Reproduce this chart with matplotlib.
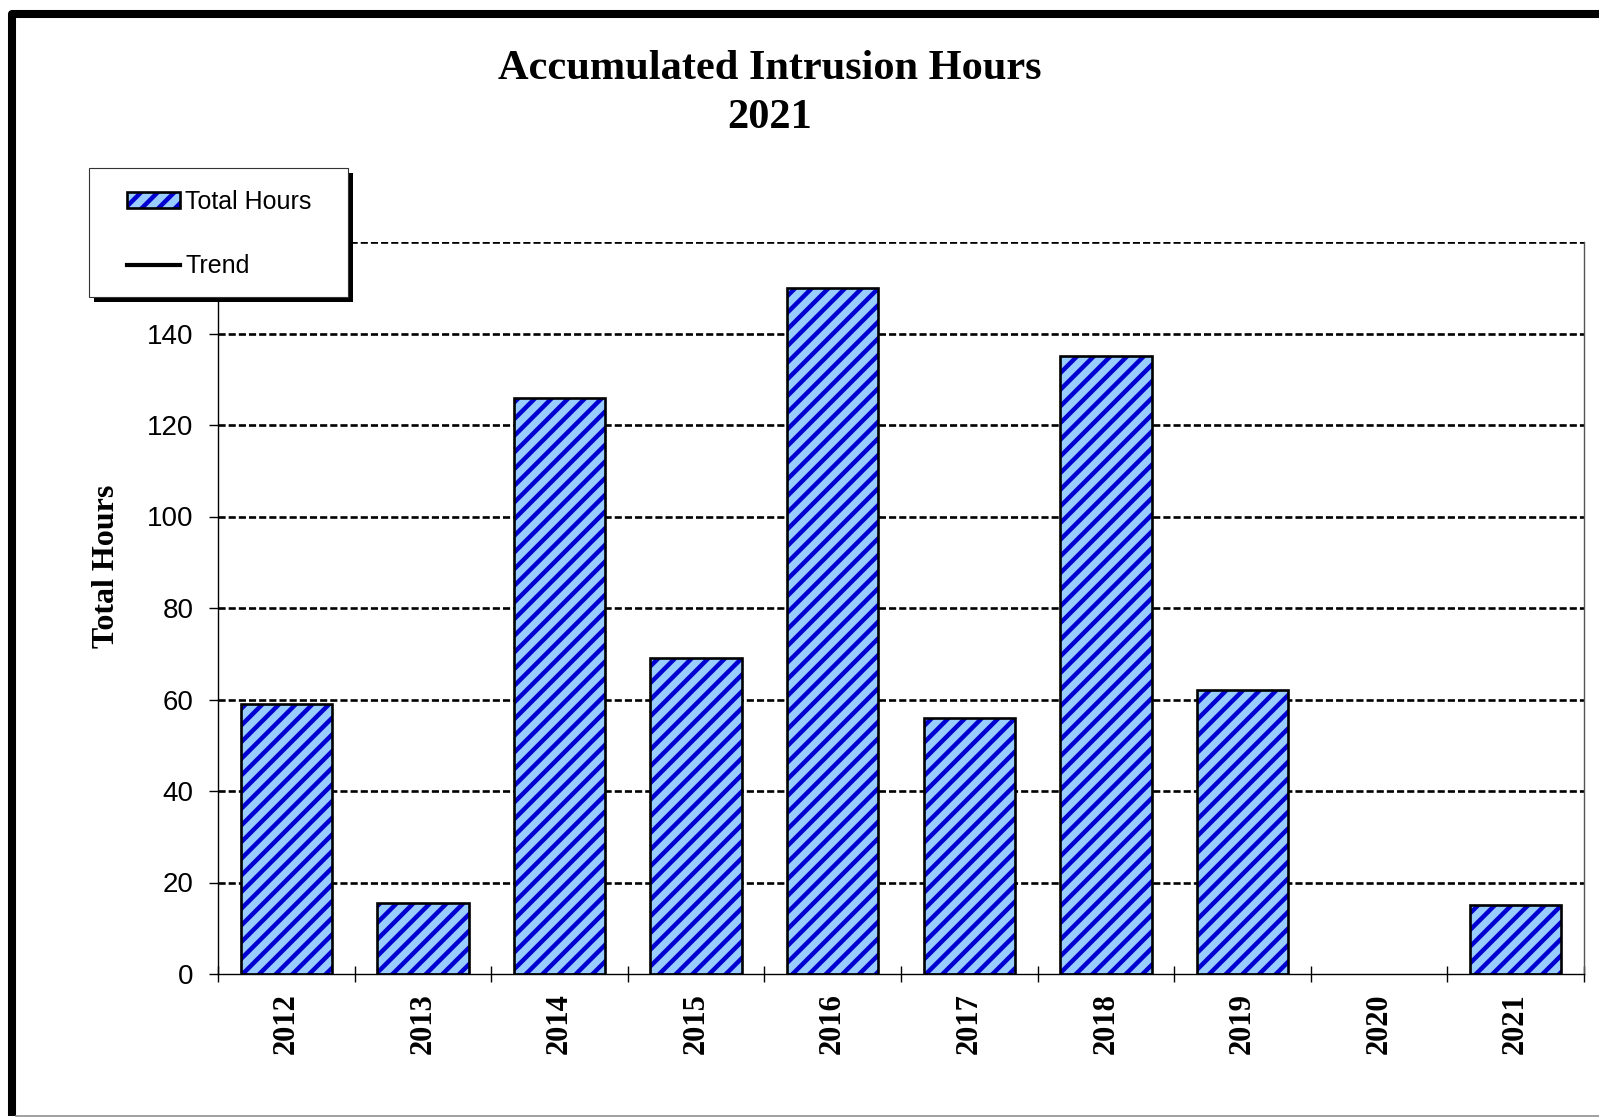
import matplotlib
matplotlib.use("Agg")
import numpy as np
import matplotlib.pyplot as plt
from matplotlib.lines import Line2D
from matplotlib.patches import Rectangle

# data
years = ["2012", "2013", "2014", "2015", "2016", "2017", "2018", "2019", "2020", "2021"]
total_hours = [59, 15.5, 126, 69, 150, 56, 135, 62, 0, 15]
y_ticks = [0, 20, 40, 60, 80, 100, 120, 140]
grid_levels = [20, 40, 60, 80, 100, 120, 140, 160]

W, H = 1599, 1118
SERIF = "Liberation Serif"
SANS = "Liberation Sans"

plt.rcParams["hatch.linewidth"] = 3.2


def fx(px):
    return px / W


def fy(py):
    return 1 - py / H


fig = plt.figure(figsize=(W / 100, H / 100), dpi=100)
fig.patch.set_facecolor("white")

ax = fig.add_axes([fx(218), fy(974), fx(1584) - fx(218), fy(242) - fy(974)])
x = np.arange(len(years))

# hatched fill, then black outline on top (no outline for empty years)
fill = ax.bar(x, total_hours, width=0.67, color="#99CCFF", edgecolor="#0000D0",
              hatch="//", linewidth=0, zorder=2)
edge_w = [1.9 if v > 0 else 0 for v in total_hours]
outline = ax.bar(x, total_hours, width=0.67, facecolor="none", edgecolor="black",
                 linewidth=edge_w, zorder=3)

ax.hlines(grid_levels, -0.5, len(years) - 0.5, colors="black", linewidth=1.9,
          linestyles=(0, (2.7, 1.15)), zorder=1)

ax.set_xlim(-0.5, len(years) - 0.5)
ax.set_ylim(0, 160)

ax.spines["top"].set_visible(False)
for side in ["left", "bottom"]:
    ax.spines[side].set_color("black")
    ax.spines[side].set_linewidth(1.0)
ax.spines["right"].set_color("#555555")
ax.spines["right"].set_linewidth(1.0)

ax.set_xticks(x)
ax.set_xticklabels(years, rotation=90, fontfamily=SERIF, fontweight="bold", fontsize=22)
ax.set_xticks(np.arange(-0.5, len(years)), minor=True)
ax.tick_params(axis="x", which="major", length=0, pad=14)
ax.tick_params(axis="x", which="minor", direction="inout", length=12, width=1)

ax.set_yticks(y_ticks)
ax.set_yticklabels([str(v) for v in y_ticks], fontfamily=SANS, fontsize=20)
ax.tick_params(axis="y", direction="out", length=6.5, width=1, pad=11)

# titles and axis label
fig.text(fx(770), fy(69), "Accumulated Intrusion Hours", ha="center", va="center",
         fontfamily=SERIF, fontweight="bold", fontsize=30.5)
fig.text(fx(770), fy(118), "2021", ha="center", va="center",
         fontfamily=SERIF, fontweight="bold", fontsize=30.5)
fig.text(fx(106), fy(566), "Total Hours", rotation=90, ha="center", va="center",
         fontfamily=SERIF, fontweight="bold", fontsize=23)

# legend box with hard black shadow
shadow = Rectangle((fx(94), fy(302)), fx(259), 129 / H, transform=fig.transFigure,
                   facecolor="black", edgecolor="none", zorder=4)
frame = Rectangle((fx(89), fy(297)), fx(259), 129 / H, transform=fig.transFigure,
                  facecolor="white", edgecolor="#333333", linewidth=0.8, zorder=5)
fig.add_artist(shadow)
fig.add_artist(frame)

trend = Line2D([], [], color="black", linewidth=3)
leg = fig.legend([(fill, outline), trend], ["Total Hours", "Trend"], loc="upper left",
                 bbox_to_anchor=(fx(127), fy(190)), bbox_transform=fig.transFigure,
                 frameon=False, borderpad=0, borderaxespad=0, handlelength=2.1,
                 handleheight=0.6, handletextpad=0.22, labelspacing=1.6,
                 prop={"family": SANS, "size": 18})
leg.set_zorder(6)

# outer border of the original image
fig.add_artist(Line2D([fx(12), fx(12), fx(1620)], [fy(1116), fy(13.5), fy(13.5)],
                      transform=fig.transFigure, color="black", linewidth=5.8,
                      solid_joinstyle="round", solid_capstyle="butt", zorder=7))
fig.add_artist(Line2D([fx(16), fx(1599)], [fy(1116), fy(1116)], transform=fig.transFigure,
                      color="#909090", linewidth=1.2, zorder=7))

fig.savefig("out.png", dpi=100)
